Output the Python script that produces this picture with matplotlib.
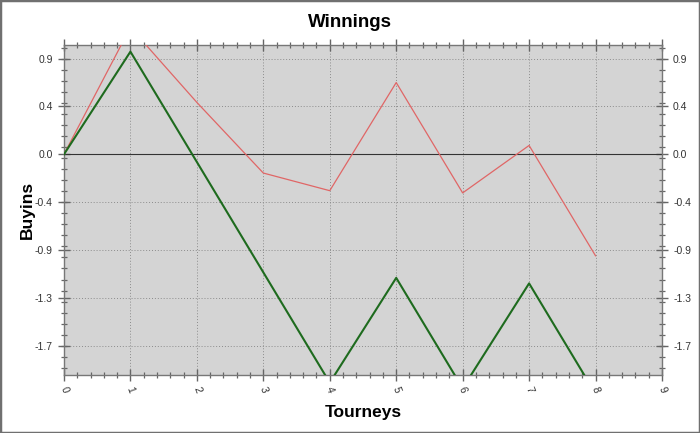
import matplotlib
matplotlib.use("Agg")
import matplotlib.pyplot as plt
from matplotlib.ticker import FixedLocator, MultipleLocator, FuncFormatter
from matplotlib.patches import Rectangle

plt.rcParams["font.family"] = ["Liberation Sans", "DejaVu Sans"]

tourneys = [0, 1, 2, 3, 4, 5, 6, 7, 8]
red_vals = [0.0, 1.15, 0.47, -0.17, -0.33, 0.65, -0.35, 0.08, -0.92]
green_vals = [0.0, 0.93, -0.07, -1.07, -2.07, -1.12, -2.12, -1.17, -2.17]
ytick_vals = [k * 1.3 / 3 for k in range(-4, 3)]

fig = plt.figure(figsize=(7, 4.33), dpi=100)
ax = fig.add_axes([0.0914, 0.134, 0.8543, 0.762])
ax.set_facecolor("#d4d4d4")

ax.plot(tourneys, red_vals, color="#e06666", lw=0.9, zorder=3)
ax.plot(tourneys, green_vals, color="#1e6b1e", lw=1.5, zorder=4)
ax.axhline(0, color="#333333", lw=0.8, zorder=2)

ax.set_xlim(0, 9)
ax.set_ylim(-2.0, 0.99)
ax.xaxis.set_major_locator(MultipleLocator(1))
ax.xaxis.set_minor_locator(MultipleLocator(0.2))
ax.yaxis.set_major_locator(FixedLocator(ytick_vals))
ax.yaxis.set_major_formatter(FuncFormatter(lambda v, p: "%.1f" % v))
ax.yaxis.set_minor_locator(FixedLocator([0.965 - 0.1 * k for k in range(30)]))

ax.grid(True, which="major", color="#8c8c8c", ls=(0, (1, 2)), lw=0.7, zorder=1)
ax.tick_params(which="both", direction="inout", top=True, right=True,
               labelright=True, color="#666666", labelsize=7.5, labelcolor="#333333")
ax.tick_params(which="major", length=8, width=1)
ax.tick_params(which="minor", length=5, width=0.9)
ax.tick_params(axis="y", which="major", pad=4)
for lab in ax.get_xticklabels():
    lab.set_rotation(-70)
    lab.set_ha("center")
    lab.set_va("top")
for s in ax.spines.values():
    s.set_color("#777777")
    s.set_linewidth(1)

ax.set_xlabel("Tourneys", fontsize=12.5, fontweight="bold", labelpad=8)
ax.set_ylabel("Buyins", fontsize=12.5, fontweight="bold", labelpad=0)
fig.suptitle("Winnings", fontsize=13.5, fontweight="bold", y=0.968)

fig.patches.append(Rectangle((0, 0), 1, 1, transform=fig.transFigure, fill=False,
                             edgecolor="#707070", lw=2.5, zorder=10))
fig.savefig("out.png", dpi=100)
